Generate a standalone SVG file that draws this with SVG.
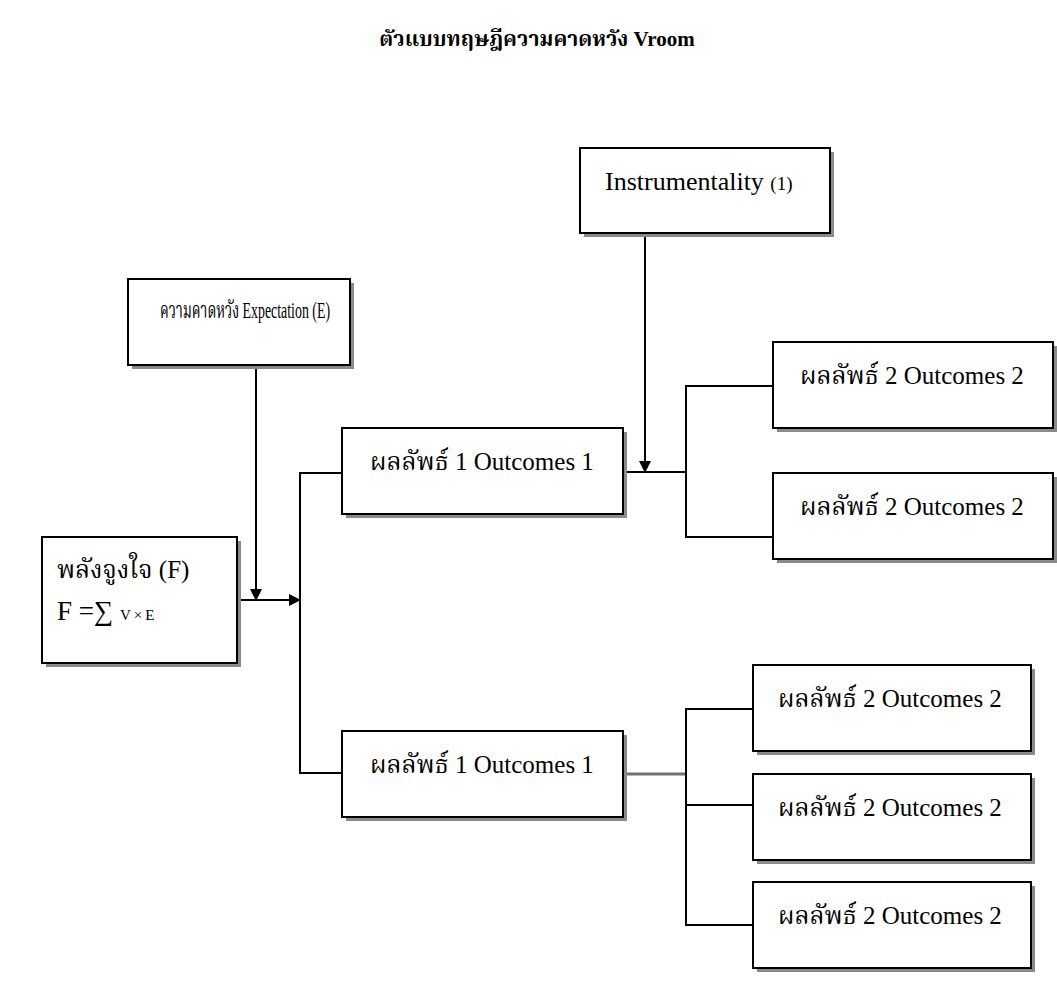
<svg xmlns="http://www.w3.org/2000/svg" width="1057" height="996" viewBox="0 0 1057 996">
<style>
.box{fill:#fff;stroke:#000;stroke-width:2}
.sh{fill:#8a8a8a}
.t{font-family:"Liberation Serif","Noto Serif Thai","Noto Sans Thai",serif;font-size:25px;fill:#000}
.c{stroke:#000;stroke-width:2;fill:none}
</style>
<defs>
<marker id="ah" markerWidth="12" markerHeight="12" refX="11" refY="6" orient="auto" markerUnits="userSpaceOnUse">
<path d="M0,0 L12,6 L0,12 Z" fill="#000"/>
</marker>
</defs>
<rect width="1057" height="996" fill="#fff"/>
<text x="537" y="46" text-anchor="middle" class="t" style="font-weight:bold;font-size:21px">ตัวแบบทฤษฎีความคาดหวัง Vroom</text>

<g id="connectors">
<line class="c" x1="256" y1="366" x2="256" y2="600" marker-end="url(#ah)"/>
<line class="c" x1="237" y1="600" x2="300" y2="600" marker-end="url(#ah)"/>
<polyline class="c" points="342,473 300,473 300,773 342,773"/>
<line class="c" x1="623" y1="472" x2="686" y2="472"/>
<line class="c" x1="645" y1="234" x2="645" y2="472" marker-end="url(#ah)"/>
<polyline class="c" points="773,386 686,386 686,537 773,537"/>
<line x1="623" y1="774" x2="686" y2="774" stroke="#707070" stroke-width="3"/>
<polyline class="c" points="753,709 686,709 686,925 753,925"/>
<line class="c" x1="686" y1="805" x2="753" y2="805"/>
</g>

<g id="instrumentality">
<rect class="sh" x="584" y="152" width="250" height="85"/>
<rect class="box" x="580" y="148" width="250" height="85"/>
<text class="t" x="605" y="190" style="font-size:26px">Instrumentality <tspan style="font-size:19px">(1)</tspan></text>
</g>

<g id="expectation">
<rect class="sh" x="132" y="283" width="222" height="86"/>
<rect class="box" x="128" y="279" width="222" height="86"/>
<text class="t" x="160" y="318" style="font-size:23px" textLength="170" lengthAdjust="spacingAndGlyphs">ความคาดหวัง Expectation (E)</text>
</g>

<g id="force">
<rect class="sh" x="46" y="541" width="195" height="126"/>
<rect class="box" x="42" y="537" width="195" height="126"/>
<text class="t" x="57" y="578">พลังจูงใจ (F)</text>
<text class="t" x="57" y="620" style="font-size:27px">F =∑ <tspan style="font-size:15px;letter-spacing:3px">V×E</tspan></text>
</g>

<g id="outcome1a">
<rect class="sh" x="346" y="432" width="281" height="86"/>
<rect class="box" x="342" y="428" width="281" height="86"/>
<text class="t" x="370" y="470">ผลลัพธ์ 1 Outcomes  1</text>
</g>

<g id="outcome1b">
<rect class="sh" x="346" y="735" width="281" height="86"/>
<rect class="box" x="342" y="731" width="281" height="86"/>
<text class="t" x="370" y="773">ผลลัพธ์ 1 Outcomes  1</text>
</g>

<g id="outcome2a">
<rect class="sh" x="777" y="346" width="280" height="86"/>
<rect class="box" x="773" y="342" width="280" height="86"/>
<text class="t" x="800" y="384">ผลลัพธ์ 2 Outcomes  2</text>
</g>

<g id="outcome2b">
<rect class="sh" x="777" y="477" width="280" height="86"/>
<rect class="box" x="773" y="473" width="280" height="86"/>
<text class="t" x="800" y="515">ผลลัพธ์ 2 Outcomes  2</text>
</g>

<g id="outcome2c">
<rect class="sh" x="757" y="669" width="278" height="86"/>
<rect class="box" x="753" y="665" width="278" height="86"/>
<text class="t" x="778" y="707">ผลลัพธ์ 2 Outcomes  2</text>
</g>

<g id="outcome2d">
<rect class="sh" x="757" y="778" width="278" height="86"/>
<rect class="box" x="753" y="774" width="278" height="86"/>
<text class="t" x="778" y="816">ผลลัพธ์ 2 Outcomes  2</text>
</g>

<g id="outcome2e">
<rect class="sh" x="757" y="886" width="278" height="86"/>
<rect class="box" x="753" y="882" width="278" height="86"/>
<text class="t" x="778" y="924">ผลลัพธ์ 2 Outcomes  2</text>
</g>
</svg>
